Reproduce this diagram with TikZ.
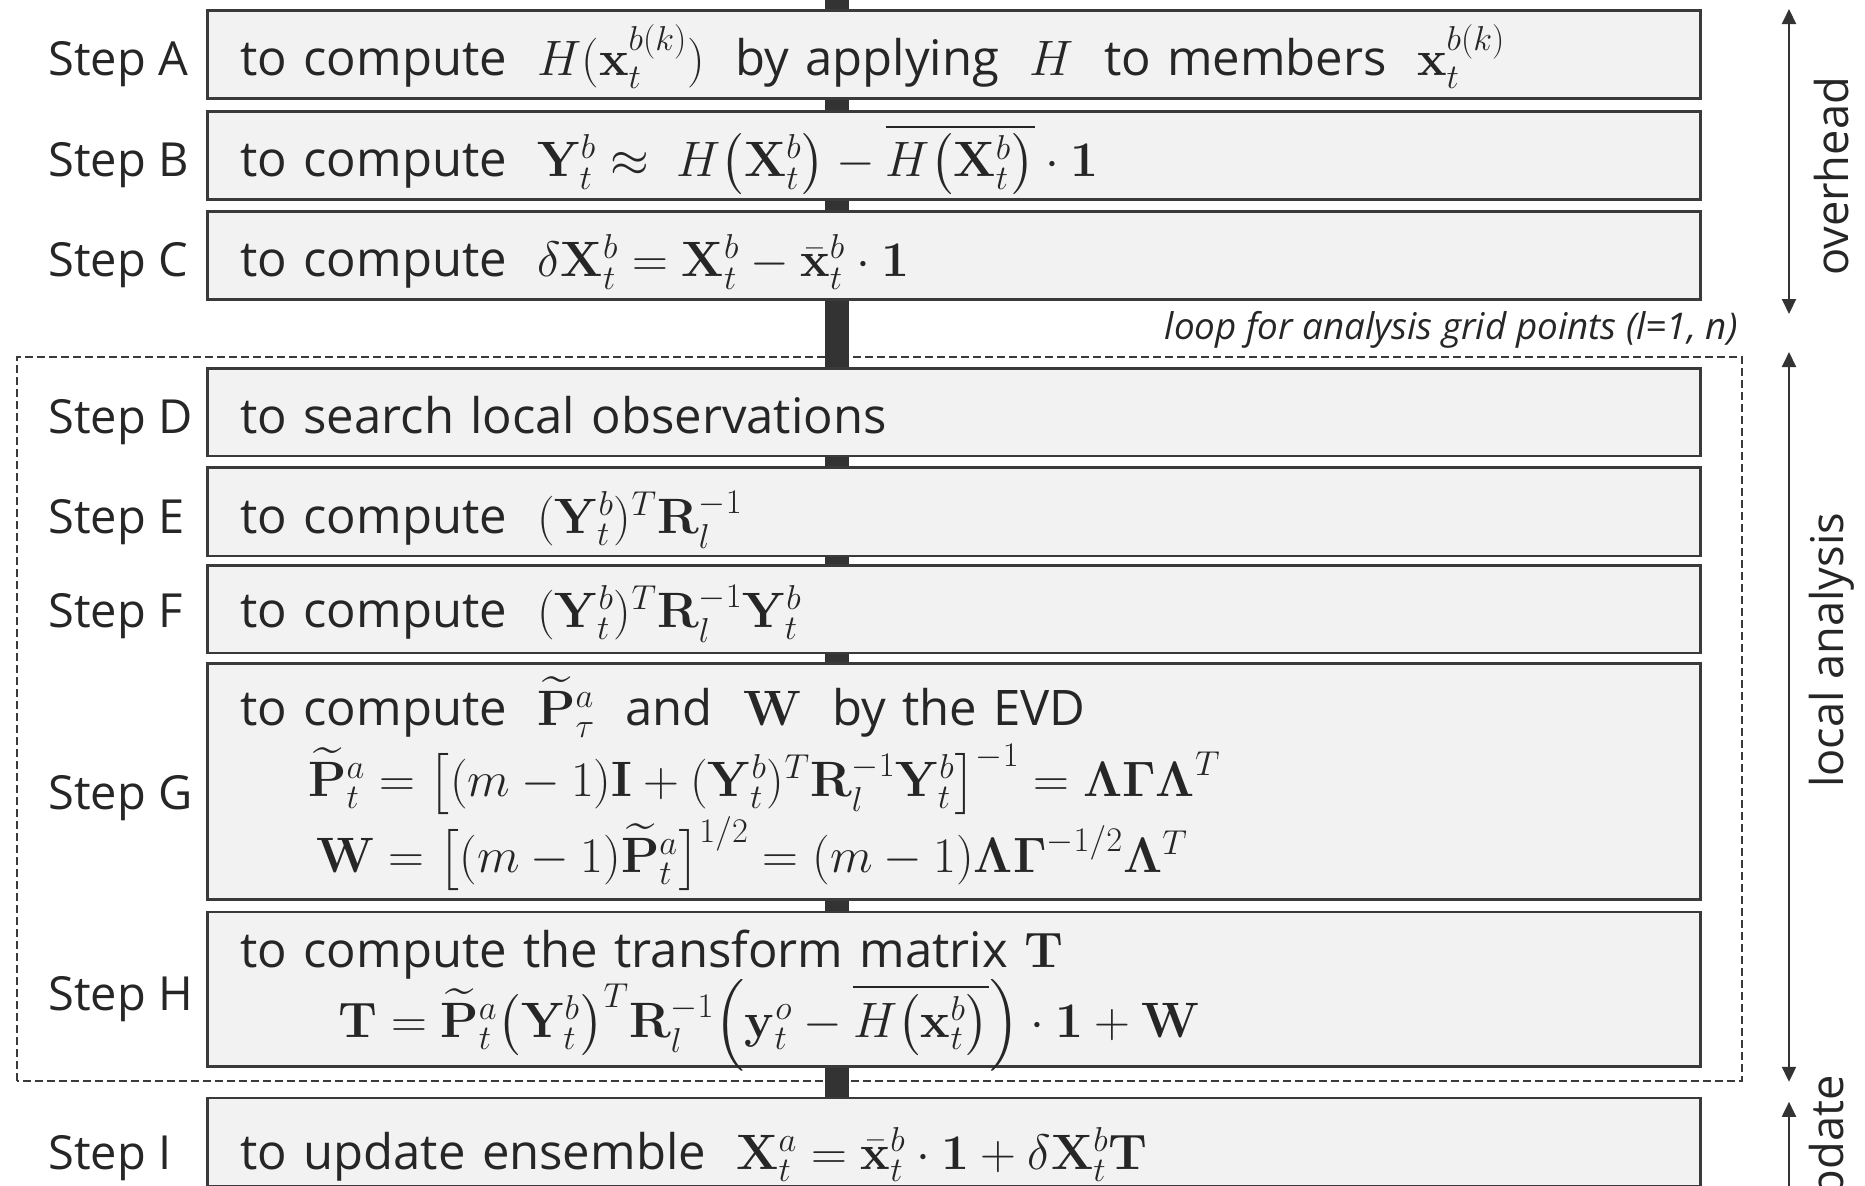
\documentclass[tikz,border=0pt]{standalone}
\usepackage{amsmath,amssymb}
\usepackage[no-math]{fontspec}
\usepackage{tikz}
\usetikzlibrary{arrows.meta,calc,positioning,backgrounds}
\newfontfamily\stepfont{Open Sans}
\DeclareMathSizes{24.5}{25.5}{19}{14}
\definecolor{boxgray}{RGB}{242,242,242}
\definecolor{edgegray}{RGB}{58,58,58}
\definecolor{bargray}{RGB}{51,51,51}
\definecolor{textgray}{RGB}{38,38,38}
\newcommand{\vb}[1]{\mathbf{#1}}
\newcommand{\Ptil}{\widetilde{\vb{P}}}
\newcommand{\mgap}{\hspace{0.62em}}
\newcommand{\fixedlines}{\lineskiplimit -40pt\relax}

\begin{document}
\begin{tikzpicture}[>={Triangle[length=7.5pt,width=7pt]},
    font=\stepfont\fontsize{24.5}{29.4}\selectfont,
    stepbox/.style={draw=edgegray,line width=1.3pt,fill=boxgray,text=textgray,
      text width=713.7pt,inner xsep=16.5pt,inner ysep=0pt,minimum height=44.2pt,
      text height=32.8pt,text depth=11.4pt,align=left},
    tallbox/.style={stepbox,font=\stepfont\fontsize{24.5}{35.5}\selectfont\fixedlines},
    steplab/.style={anchor=base west,text=textgray,inner sep=0pt,
      font=\stepfont\fontsize{23.5}{28}\selectfont},
    sidelab/.style={rotate=90,text=textgray,font=\stepfont\fontsize{22.6}{26}\selectfont},
    looptext/.style={text=textgray,inner sep=0pt,font=\stepfont\itshape\fontsize{18.4}{22}\selectfont},
    span/.style={<->,line width=1pt,draw=bargray},
    flowbar/.style={line width=12pt,draw=bargray},
    loopframe/.style={draw=edgegray,line width=1pt,dash pattern=on 4pt off 2pt}]
  \useasboundingbox (0,0) rectangle (932.5pt,-592.5pt);
  \coordinate (lableft) at (24pt,0);
  \coordinate (flowtop) at (418.5pt,0);
  \coordinate (spanx) at (894.5pt,0);

  % overhead part
  \node[stepbox,anchor=north west] (stepA) at (103pt,-4.5pt)
    {to compute\mgap$H(\vb{x}_t^{b(k)})$\mgap by applying\mgap$H$\mgap to members\mgap$\vb{x}_t^{b(k)}$};
  \node[stepbox,below=5pt of stepA] (stepB)
    {to compute\mgap$\vb{Y}_t^b \approx\; H\bigl(\vb{X}_t^b\bigr) - \overline{H\bigl(\vb{X}_t^b\bigr)}\cdot\vb{1}$};
  \node[stepbox,below=4.5pt of stepB] (stepC)
    {to compute\mgap$\delta\vb{X}_t^b = \vb{X}_t^b - \bar{\vb{x}}_t^b\cdot\vb{1}$};

  % local analysis part
  \node[stepbox,below=33pt of stepC,minimum height=43.8pt,text height=32.4pt] (stepD) {to search local observations};
  \node[stepbox,below=4.5pt of stepD] (stepE)
    {to compute\mgap$(\vb{Y}_t^b)^T\vb{R}_l^{-1}$};
  \node[stepbox,below=3.5pt of stepE,minimum height=43.8pt,text height=30.8pt,text depth=13pt] (stepF)
    {to compute\mgap$(\vb{Y}_t^b)^T\vb{R}_l^{-1}\vb{Y}_t^b$};
  \node[tallbox,below=4pt of stepF,minimum height=117.8pt,text height=30.85pt,text depth=86.95pt] (stepG)
    {to compute\mgap$\Ptil_\tau^a$\mgap and\mgap$\vb{W}$\mgap by the EVD\\
     \hspace*{34pt}$\Ptil_t^a = \bigl[(m-1)\vb{I} + (\vb{Y}_t^b)^T\vb{R}_l^{-1}\vb{Y}_t^b\bigr]^{-1} = \vb{\Lambda\Gamma\Lambda}^T$\\[2.5pt]
     \hspace*{38pt}$\vb{W} = \bigl[(m-1)\Ptil_t^a\bigr]^{1/2} = (m-1)\vb{\Lambda\Gamma}^{-1/2}\vb{\Lambda}^T$};
  \node[tallbox,below=5pt of stepG,minimum height=77.3pt,text height=27.85pt,text depth=49.45pt] (stepH)
    {to compute the transform matrix $\vb{T}$\\[-0.5pt]
     \hspace*{49pt}$\vb{T} = \Ptil_t^a\bigl(\vb{Y}_t^b\bigr)^T\vb{R}_l^{-1}\Bigl(\vb{y}_t^o - \overline{H\bigl(\vb{x}_t^b\bigr)}\Bigr)\cdot\vb{1}+\vb{W}$};

  % update part
  \node[stepbox,below=14.5pt of stepH,text height=35.7pt,text depth=8.5pt] (stepI)
    {to update ensemble\mgap$\vb{X}_t^a = \bar{\vb{x}}_t^b\cdot\vb{1} + \delta\vb{X}_t^b\vb{T}$};

  \foreach \s in {A,B,C,D,E,F,I}
    \node[steplab] (lab\s) at (lableft |- step\s.base) {Step \s};
  \node[steplab] (labG) at ([yshift=-42pt]lableft |- stepG.base) {Step G};
  \node[steplab] (labH) at ([yshift=-21.5pt]lableft |- stepH.base) {Step H};

  % loop frame and flow bar behind the boxes
  \coordinate (frameNE) at ([xshift=20pt,yshift=5pt]stepD.north east);
  \coordinate (frameSW) at ([xshift=-94.5pt,yshift=-6.5pt]stepH.south west);
  \begin{scope}[on background layer]
    \draw[loopframe] (frameSW) rectangle (frameNE);
    \draw[flowbar] (flowtop) -- (stepI.center -| flowtop);
  \end{scope}
  \node[looptext,anchor=south east] (loopnote) at ([xshift=-2pt,yshift=4pt]frameNE)
    {loop for analysis grid points (l=1, n)};

  % spans on the right
  \coordinate (ohTop) at (spanx |- stepA.north);
  \coordinate (ohBot) at ([yshift=-6.5pt]spanx |- stepC.south);
  \coordinate (laTop) at ([yshift=2.5pt]spanx |- frameNE);
  \coordinate (laBot) at ([yshift=-0.5pt]spanx |- frameSW);
  \coordinate (upTop) at ([yshift=-2.5pt]spanx |- stepI.north);
  \coordinate (upBot) at ([yshift=-30pt]spanx |- stepI.south);
  \draw[span] (ohTop) -- (ohBot);
  \draw[span] (laTop) -- (laBot);
  \draw[span] (upTop) -- (upBot);
  \node[sidelab] (ohLab) at ([xshift=21.5pt,yshift=-7.5pt]$(ohTop)!0.5!(ohBot)$) {overhead};
  \node[sidelab] (laLab) at ([xshift=21.5pt,yshift=-20.5pt]spanx |- stepF.center) {local analysis};
  \node[sidelab] (upLab) at ([xshift=21.5pt,yshift=-4pt]spanx |- stepI.center) {update};
\end{tikzpicture}
\end{document}
